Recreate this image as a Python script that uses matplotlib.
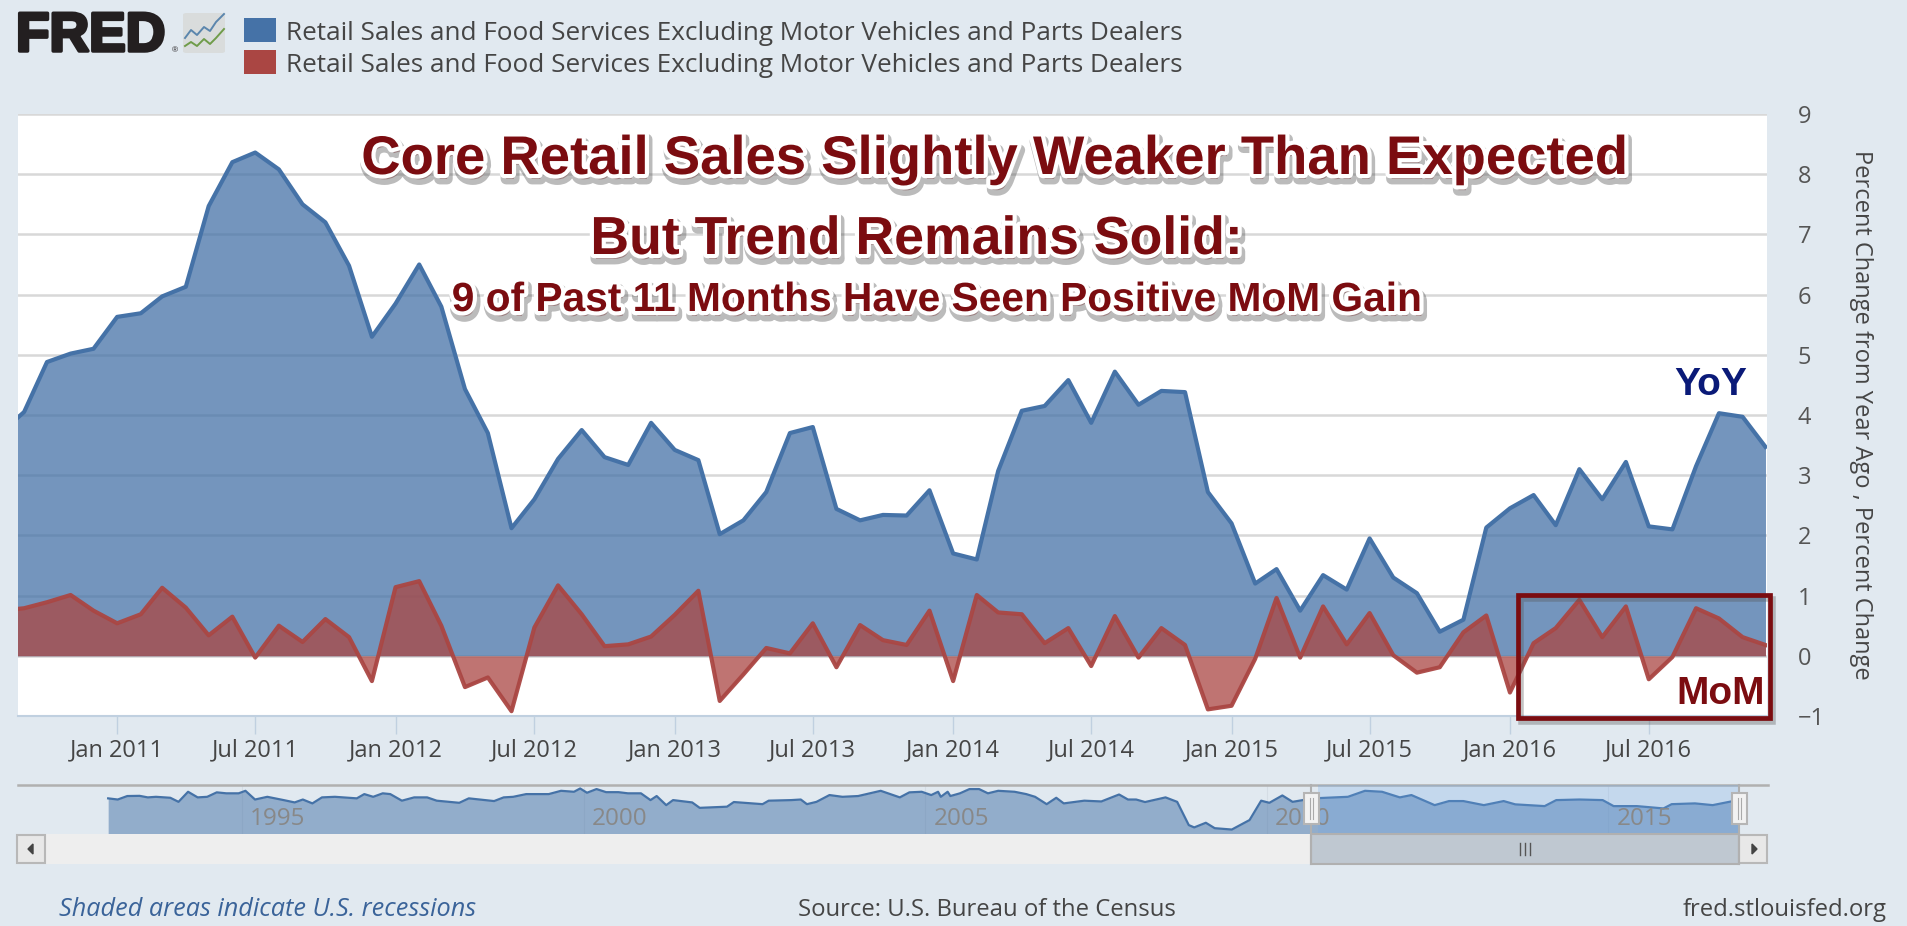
import numpy as np
import pandas as pd
import matplotlib
matplotlib.use("Agg")
import matplotlib.pyplot as plt
import matplotlib.patheffects as pe
from matplotlib.patches import Rectangle, FancyBboxPatch, Polygon
from matplotlib.lines import Line2D

# monthly series, Aug 2010 - Dec 2016
months = pd.date_range("2010-08-01", periods=77, freq="MS")

yoy = [3.7, 4.05, 4.88, 5.02, 5.1,
       5.63, 5.69, 5.97, 6.13, 7.47, 8.2, 8.36, 8.08, 7.5, 7.2, 6.48, 5.3,
       5.85, 6.5, 5.8, 4.43, 3.7, 2.12, 2.6, 3.27, 3.75, 3.3, 3.17, 3.87,
       3.42, 3.25, 2.02, 2.25, 2.72, 3.7, 3.8, 2.44, 2.25, 2.34, 2.33, 2.75,
       1.7, 1.6, 3.07, 4.07, 4.15, 4.58, 3.87, 4.72, 4.17, 4.4, 4.38, 2.72,
       2.2, 1.2, 1.44, 0.75, 1.34, 1.1, 1.95, 1.3, 1.04, 0.4, 0.6, 2.13,
       2.45, 2.67, 2.17, 3.1, 2.6, 3.22, 2.15, 2.1, 3.15, 4.03, 3.97, 3.47]

mom = [0.75, 0.79, 0.89, 1.01, 0.75,
       0.54, 0.69, 1.13, 0.8, 0.34, 0.65, -0.03, 0.5, 0.23, 0.61, 0.31, -0.42,
       1.14, 1.24, 0.5, -0.52, -0.36, -0.92, 0.47, 1.17, 0.69, 0.16, 0.19, 0.32,
       0.68, 1.08, -0.75, -0.31, 0.13, 0.04, 0.54, -0.19, 0.51, 0.26, 0.18, 0.75,
       -0.42, 1.01, 0.72, 0.69, 0.21, 0.46, -0.17, 0.66, -0.03, 0.46, 0.18, -0.89,
       -0.83, -0.05, 0.96, -0.03, 0.82, 0.19, 0.71, 0.01, -0.28, -0.19, 0.39, 0.67,
       -0.61, 0.21, 0.46, 0.93, 0.31, 0.82, -0.39, -0.02, 0.79, 0.62, 0.31, 0.18]

y_ticks = [-1, 0, 1, 2, 3, 4, 5, 6, 7, 8, 9]
date_ticks = ["2011-01-01", "2011-07-01", "2012-01-01", "2012-07-01", "2013-01-01", "2013-07-01",
              "2014-01-01", "2014-07-01", "2015-01-01", "2015-07-01", "2016-01-01", "2016-07-01"]
date_labels = ["Jan 2011", "Jul 2011", "Jan 2012", "Jul 2012", "Jan 2013", "Jul 2013",
               "Jan 2014", "Jul 2014", "Jan 2015", "Jul 2015", "Jan 2016", "Jul 2016"]

# navigator overview, long history of the YoY series
nav_years = [1993.04, 1993.18, 1993.32, 1993.50, 1993.62, 1993.74, 1993.95, 1994.07, 1994.21, 1994.35,
             1994.49, 1994.63, 1994.77, 1994.95, 1995.05, 1995.19, 1995.37, 1995.61, 1995.77, 1995.89,
             1996.03, 1996.17, 1996.36, 1996.68, 1996.79, 1996.92, 1997.06, 1997.17, 1997.34, 1997.52,
             1997.71, 1997.85, 1998.18, 1998.32, 1998.69, 1998.83, 1998.97, 1999.16, 1999.49, 1999.67,
             1999.86, 1999.95, 2000.05, 2000.19, 2000.33, 2000.51, 2000.65, 2000.84, 2000.98, 2001.07,
             2001.21, 2001.31, 2001.59, 2001.70, 2002.10, 2002.20, 2002.48, 2002.62, 2002.71, 2003.04,
             2003.18, 2003.27, 2003.41, 2003.60, 2003.79, 2004.02, 2004.35, 2004.63, 2004.77, 2004.95,
             2005.09, 2005.19, 2005.23, 2005.33, 2005.37, 2005.51, 2005.65, 2005.79, 2005.92, 2006.07,
             2006.31, 2006.48, 2006.61, 2006.78, 2006.92, 2007.03, 2007.20, 2007.33, 2007.58, 2007.84,
             2007.97, 2008.09, 2008.22, 2008.52, 2008.69, 2008.86, 2008.94, 2009.11, 2009.24, 2009.49,
             2009.75, 2009.92, 2010.04, 2010.23, 2010.38, 2010.68, 2011.19, 2011.44, 2011.69, 2011.95,
             2012.12, 2012.46, 2012.67, 2012.88, 2013.18, 2013.47, 2013.64, 2014.07, 2014.24, 2014.58,
             2014.92, 2015.08, 2015.42, 2015.81, 2015.93, 2016.27, 2016.53, 2016.90]
nav_values = [4.4, 3.8, 5.6, 5.7, 4.9, 5.2, 4.7, 2.6, 7.8, 4.9,
              5.2, 7.5, 7.0, 7.0, 8.3, 3.8, 5.2, 3.5, 2.3, 3.8,
              1.8, 4.9, 5.2, 4.4, 6.6, 5.2, 7.0, 6.6, 3.2, 4.9,
              4.9, 3.2, 2.1, 4.4, 3.0, 4.9, 5.2, 6.6, 6.6, 8.3,
              7.8, 9.5, 7.3, 9.2, 7.6, 7.6, 7.0, 7.0, 3.5, 5.6,
              0.9, 3.5, 2.3, -0.5, 0.1, 2.5, 1.8, 1.4, 3.2, 3.5,
              3.8, 1.4, 2.6, 6.1, 5.2, 5.6, 8.3, 4.9, 7.5, 7.8,
              6.1, 7.8, 5.2, 7.8, 5.6, 7.0, 9.2, 9.2, 7.0, 8.3,
              7.8, 6.6, 5.2, 1.4, 4.7, 1.8, 2.6, 3.2, 2.8, 6.4,
              3.8, 3.8, 2.5, 4.9, 2.6, -9.4, -10.6, -8.2, -11.0, -11.7,
              -6.8, 3.2, 2.1, 5.9, 2.6, 4.4, 5.2, 8.3, 7.8, 4.9,
              6.1, 0.9, 3.0, 3.0, 0.9, 3.0, 1.3, 0.4, 3.5, 3.8,
              3.5, 0.4, 0.4, -0.8, 1.4, 1.8, 0.9, 3.5]
nav_ticks = [1995, 2000, 2005, 2010, 2015]

W, H = 1908, 926
BG = "#e1e9f0"
BLUE = "#4572a7"
RED = "#aa4643"
DARK_RED = "#7b0c10"
TEXT = "#454545"
FONT = "Open Sans"
HEAD = "Liberation Sans"


def px_axes(fig, left, top, right, bottom):
    return fig.add_axes([left / W, 1 - bottom / H, (right - left) / W, (bottom - top) / H])


def fig_text(fig, x, y, s, **kw):
    kw.setdefault("va", "center")
    kw.setdefault("family", FONT)
    return fig.text(x / W, 1 - y / H, s, **kw)


def fig_rect(fig, x0, y0, x1, y1, **kw):
    r = Rectangle((x0 / W, 1 - y1 / H), (x1 - x0) / W, (y1 - y0) / H, transform=fig.transFigure, **kw)
    fig.add_artist(r)
    return r


def fig_line(fig, xs, ys, **kw):
    fig.add_artist(Line2D(np.array(xs) / W, 1 - np.array(ys) / H, transform=fig.transFigure, **kw))


fig = plt.figure(figsize=(W / 100, H / 100), dpi=100, facecolor=BG)

# main chart
ax = px_axes(fig, 18, 114, 1767, 716)
ax.set_facecolor("white")
ax.fill_between(months, yoy, 0, color=BLUE, alpha=0.75, lw=0, zorder=2)
ax.plot(months, yoy, color=BLUE, lw=3, zorder=3)
ax.fill_between(months, mom, 0, color=RED, alpha=0.75, lw=0, zorder=4)
ax.plot(months, mom, color=RED, lw=3, alpha=0.95, zorder=5)

ax.set_xlim(pd.Timestamp("2010-08-24"), pd.Timestamp("2016-12-03"))
ax.set_ylim(-1, 9)
ax.set_yticks(y_ticks)
ax.yaxis.tick_right()
ax.grid(axis="y", color="#d8d8d8", lw=1.8, zorder=1)
ax.tick_params(axis="y", length=0, pad=22, labelsize=17, labelcolor="#555555")
ax.set_xticks(pd.to_datetime(date_ticks))
ax.set_xticklabels(date_labels)
ax.tick_params(axis="x", length=13, width=1, color="#c0d0e0", labelsize=17, labelcolor=TEXT, pad=3)
for lab in ax.get_xticklabels() + ax.get_yticklabels():
    lab.set_family(FONT)
for name in ["top", "left", "right"]:
    ax.spines[name].set_visible(False)
ax.spines["bottom"].set_color("#c0d0e0")
ax.spines["bottom"].set_linewidth(1.5)

fig_text(fig, 1861, 415, "Percent Change from Year Ago , Percent Change", rotation=270,
         ha="center", fontsize=17, color=TEXT)

# overlaid headline text
halo = [pe.Stroke(linewidth=8, foreground="#555555", offset=(1.5, -3.5), alpha=0.4),
        pe.Stroke(linewidth=6, foreground="white"), pe.Normal()]
fig_text(fig, 994, 160, "Core Retail Sales Slightly Weaker Than Expected", ha="center", family=HEAD,
         weight="bold", fontsize=39.2, color=DARK_RED, path_effects=halo)
fig_text(fig, 917, 240, "But Trend Remains Solid:", ha="center", family=HEAD,
         weight="bold", fontsize=38.6, color=DARK_RED, path_effects=halo)
fig_text(fig, 938, 300, "9 of Past 11 Months Have Seen Positive MoM Gain", ha="center", family=HEAD,
         weight="bold", fontsize=29.3, color=DARK_RED, path_effects=halo)
fig_text(fig, 1711, 385, "YoY", ha="center", family=HEAD, weight="bold", fontsize=28, color="#0a1a78")
fig_text(fig, 1721, 694, "MoM", ha="center", family=HEAD, weight="bold", fontsize=28, color=DARK_RED)

box = fig_rect(fig, 1518, 595, 1770, 718, fill=False, ec=DARK_RED, lw=3.4, zorder=6)
box.set_path_effects([pe.Stroke(linewidth=4, foreground="#555555", offset=(2, -3), alpha=0.35), pe.Normal()])

# legend and logo
fig_rect(fig, 244, 18, 276, 42, color=BLUE, lw=0)
fig_rect(fig, 244, 50, 276, 74, color=RED, lw=0)
fig_text(fig, 286, 34, "Retail Sales and Food Services Excluding Motor Vehicles and Parts Dealers",
         fontsize=18.8, color=TEXT)
fig_text(fig, 286, 66, "Retail Sales and Food Services Excluding Motor Vehicles and Parts Dealers",
         fontsize=18.8, color=TEXT)

fig_text(fig, 16, 37, "FRED", family=HEAD, weight="bold", fontsize=39.5, color="#231f20",
         path_effects=[pe.Stroke(linewidth=2.5, foreground="#231f20"), pe.Normal()])
fig_text(fig, 172, 51, "®", family=HEAD, fontsize=6, color="#231f20")
fig.add_artist(FancyBboxPatch((183 / W, 1 - 53 / H), 42 / W, 40 / H, boxstyle="round,pad=0,rounding_size=0.002",
                              transform=fig.transFigure, fc="#d9dcdc", ec="none"))
fig_line(fig, [185, 191, 197, 204, 210, 216, 224], [38, 30, 35, 27, 31, 22, 14], color="#5b86ad", lw=1.4)
fig_line(fig, [185, 191, 197, 204, 210, 216, 224], [46, 42, 46, 39, 44, 38, 29], color="#6f9c4a", lw=1.4)

# navigator
nav = px_axes(fig, 18, 785, 1768, 834)
nav.patch.set_alpha(0)
nav.set_xlim(1991.72, 2017.34)
nav.set_ylim(-14, 11.3)
nav.fill_between(nav_years, nav_values, -14, color=BLUE, alpha=0.5, lw=0, zorder=2)
nav.plot(nav_years, nav_values, color=BLUE, lw=1.6, zorder=3)
nav.axvspan(2010.75, 2016.9, color=(113 / 255, 169 / 255, 232 / 255), alpha=0.26, lw=0, zorder=3.5)
for year in nav_ticks:
    nav.axvline(year, color="#d5dde5", lw=0.8, zorder=1)
    nav.text(year + 0.12, -6.5, str(year), family=FONT, fontsize=17.5, color="#888888", va="center", zorder=4)
nav.set_xticks([])
nav.set_yticks([])
for name in ["left", "right", "bottom"]:
    nav.spines[name].set_visible(False)
nav.spines["top"].set_color("#b0b0b0")
nav.spines["top"].set_linewidth(1.8)

# scrollbar and handles
fig_rect(fig, 16, 834, 1768, 864, color="#eeeeee", lw=0)
fig_rect(fig, 1311, 834, 1739, 864, fc="#bfc8d1", ec="#b0b0b0", lw=1.5)
for bx in (17, 1739):
    fig_rect(fig, bx, 835, bx + 28, 863, fc="#e8e8e8", ec="#b8b8b8", lw=1.5)
fig.add_artist(Polygon([(28 / W, 1 - 849 / H), (33 / W, 1 - 844 / H), (33 / W, 1 - 854 / H)],
                       transform=fig.transFigure, color="#444444"))
fig.add_artist(Polygon([(1757 / W, 1 - 849 / H), (1752 / W, 1 - 844 / H), (1752 / W, 1 - 854 / H)],
                       transform=fig.transFigure, color="#444444"))
for gx in (1520, 1525, 1530):
    fig_line(fig, [gx, gx], [843, 855], color="#555555", lw=1)
for hx in (1311, 1739):
    fig_line(fig, [hx, hx], [785, 864], color="#b0b0b0", lw=1.5)
    fig_rect(fig, hx - 7, 793, hx + 8, 824, fc="#f2f2f2", ec="#b5b5b5", lw=1.5, zorder=5)
    for gx in (hx - 1, hx + 2):
        fig_line(fig, [gx, gx], [798, 819], color="#aaaaaa", lw=0.8, zorder=6)

# footer
fig_text(fig, 59, 910, "Shaded areas indicate U.S. recessions", fontsize=18.2, style="italic", color="#3a6399")
fig_text(fig, 798, 910, "Source: U.S. Bureau of the Census", fontsize=17.2, color=TEXT)
fig_text(fig, 1887, 910, "fred.stlouisfed.org", ha="right", fontsize=17.2, color=TEXT)

fig.savefig("out.png", dpi=100, facecolor=BG)
plt.close(fig)
